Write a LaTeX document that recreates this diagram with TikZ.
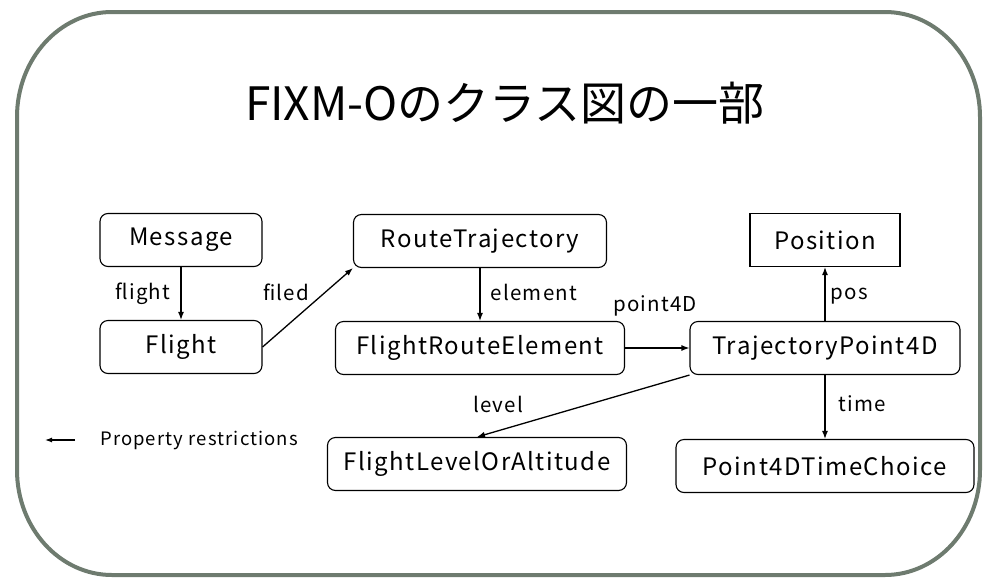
\documentclass[tikz,border=0pt]{standalone}
\usepackage{fontspec}
\setmainfont{Noto Sans CJK JP}
\newfontfamily\clsfont[LetterSpace=6]{Noto Sans CJK JP}
\usetikzlibrary{arrows.meta}
\definecolor{framegray}{HTML}{6E7B6F}

\begin{document}
\begin{tikzpicture}[x=1pt,y=1pt,
  every node/.style={inner sep=0pt},
  cls/.style={draw, rounded corners=8pt, line width=1.1pt, minimum height=53pt, font=\clsfont\fontsize{24}{26}\selectfont},
  rel/.style={-{Latex[length=8pt,width=6pt]}, line width=1.3pt},
  lbl/.style={font=\clsfont\fontsize{20.5}{22}\selectfont}]
\useasboundingbox (0,0) rectangle (994,-579);
% frame
\draw [framegray, line width=4pt, fill=white] (112,-12) -- (885,-12)
  arc[start angle=90, end angle=0, x radius=95, y radius=105] -- (980,-470)
  arc[start angle=0, end angle=-90, x radius=95, y radius=105] -- (112,-575)
  arc[start angle=270, end angle=180, x radius=95, y radius=105] -- (17,-117)
  arc[start angle=180, end angle=90, x radius=95, y radius=105] -- cycle;
\node (title) at (505,-103) {\fontsize{46}{50}\selectfont FIXM-Oのクラス図の一部};
% classes
\node [cls, minimum width=162pt] (msg) at (181,-240) {Message};
\node [cls, minimum width=162pt] (flt) at (181,-347) {Flight};
\node [cls, minimum width=253pt] (rt) at (480,-241) {RouteTrajectory};
\node [cls, minimum width=289pt] (fre) at (480,-348) {FlightRouteElement};
\node [cls, minimum width=150pt, rounded corners=0pt] (pos) at (825,-240) {Position};
\node [cls, minimum width=270pt] (tp) at (825,-348) {TrajectoryPoint4D};
\node [cls, minimum width=299pt] (floa) at (477,-464) {FlightLevelOrAltitude};
\node [cls, minimum width=298pt] (tc) at (825,-466) {Point4DTimeChoice};
% properties
\draw [rel] (msg) -- (flt);
\node [lbl] at (143,-294) {flight};
\draw [rel] (flt.east) -- (rt.south west);
\node [lbl] at (286,-292) {filed};
\draw [rel] (rt) -- (fre);
\node [lbl] at (534,-292) {element};
\draw [rel] (fre) -- (tp);
\node [lbl] at (655,-306) {point4D};
\draw [rel] (tp) -- (pos);
\node [lbl] at (849,-296) {pos};
\draw [rel] (tp) -- (tc);
\node [lbl] at (862,-404) {time};
\draw [rel] (tp.south west) -- (floa.north);
\node [lbl] at (498,-404) {level};
% legend
\coordinate (lgA) at (75,-440);
\coordinate (lgB) at (45,-440);
\draw [-{Latex[length=7pt,width=5pt]}, line width=1.2pt] (lgA) -- (lgB);
\node [anchor=west, font=\clsfont\fontsize{18.5}{20}\selectfont] (lgd) at (100,-440) {Property restrictions};
\end{tikzpicture}
\end{document}
